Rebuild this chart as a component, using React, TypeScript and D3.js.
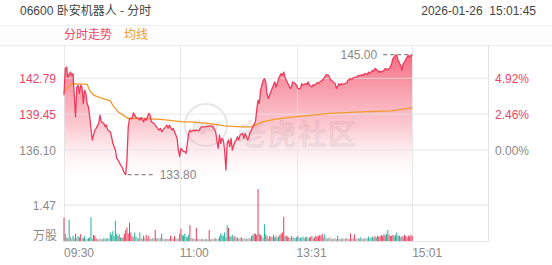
import React from "react";
import * as d3 from "d3";

const title = "06600 卧安机器人 - 分时";
const stamp = "2026-01-26  15:01:45";
const legendPrice = "分时走势";
const legendAvg = "均线";

const priceTicks = [136.1, 139.45, 142.79];
const priceTickLabels = ["136.10", "139.45", "142.79"];
const pctTickLabels = ["0.00%", "2.46%", "4.92%"];
const volTick = 1.47;
const volTickLabel = "1.47";
const volUnit = "万股";
const timeLabels = ["09:30", "11:00", "13:31", "15:01"];
const timeIdx = [0, 90, 181, 271];
const totalMinutes = 330;
const maxPrice = 145.0;
const minPrice = 133.8;

const priceMin = [0,1,2,3,5,6,7,9,10,11,12,13,14,15,16,17,18,19,20,22,23,24,25,27,28,29,31,32,33,34,36,37,38,40,41,42,44,45,46,47,48,49,50,51,53,54,56,58,59,60,62,63,64,66,67,68,70,71,72,74,75,76,77,79,80,81,82,84,85,86,88,89,90,91,93,94,95,97,98,99,101,102,103,105,106,107,110,112,115,116,118,119,120,121,122,123,124,125,126,127,128,129,130,131,133,134,135,136,137,139,140,141,143,144,145,146,147,149,150,151,152,153,154,155,156,157,158,159,160,162,163,164,165,166,167,169,170,171,172,173,175,176,177,178,180,181,182,184,185,186,188,189,190,191,193,194,195,197,198,199,201,202,203,204,206,207,208,210,211,212,214,215,216,217,219,220,221,223,224,225,227,228,229,230,232,233,234,236,237,238,240,241,242,244,245,246,247,249,250,251,253,254,255,256,258,259,260,262,263,264,265,267,268,269,270,271];
const priceVal = [141.21,143.69,143.84,142.91,143.37,143.07,143.23,139.19,141.98,142.14,141.37,142.14,141.98,140.44,141.67,141.37,140.44,140.12,139.19,137.03,137.49,137.96,138.12,138.58,139.35,138.73,138.58,138.26,138.42,137.96,137.8,137.34,136.72,136.1,135.33,135.17,134.71,134.55,134.24,133.94,133.8,135.17,138.26,139.04,139.04,139.57,139.14,139.04,138.89,139.14,138.73,139.04,138.89,139.51,139.35,138.73,138.58,138.42,138.26,137.96,138.12,137.8,137.96,138.26,138.42,138.12,138.42,137.96,138.12,137.8,137.19,136.1,135.48,136.26,135.94,135.94,135.79,137.65,137.96,137.8,137.96,137.89,137.96,137.89,138.12,138.26,138.26,138.33,138.33,138.26,137.8,137.03,136.26,137.49,136.72,137.19,137.03,136.1,134.24,136.72,137.03,136.41,137.19,136.1,136.87,137.03,137.34,137.03,137.49,137.65,137.19,137.65,137.03,137.34,137.8,137.96,138.26,138.73,139.82,140.75,140.44,141.67,142.14,142.6,142.76,142.45,141.37,140.9,141.21,141.83,142.14,142.45,141.98,142.3,142.76,143.23,143.07,143.37,142.91,142.6,142.14,141.83,141.98,142.45,142.3,142.14,141.83,141.83,142.3,142.14,142.3,142.2,142.45,142.14,141.98,142.2,142.14,142.39,142.3,142.45,142.6,142.76,142.91,143.13,143.07,142.76,142.6,142.39,142.3,141.83,142.3,142.14,142.3,142.23,142.3,142.39,142.6,142.76,142.7,142.82,142.91,142.85,143.07,143.0,143.13,143.07,143.23,143.13,143.37,143.23,143.53,143.44,143.69,143.53,143.37,143.44,143.37,143.53,143.69,143.62,143.69,143.84,144.15,144.62,144.95,144.93,144.46,143.99,143.53,144.15,144.3,144.77,144.93,144.77,144.93,145.0];

const avgMin = [0,6,18,20,23,28,36,38,42,46,50,62,75,93,99,112,125,138,146,149,154,164,175,180,206,232,255,271];
const avgVal = [141.52,142.3,142.23,141.67,141.21,140.99,140.68,140.28,139.66,139.35,139.04,139.04,138.95,138.73,138.73,138.58,138.36,138.26,138.26,138.42,138.73,138.95,139.14,139.19,139.51,139.66,139.75,140.03];

const volumes = [
0.95,0.30,0.15,0.12,0.86,0.18,0.10,0.22,0.12,0.30,
0.12,0.20,0.15,0.28,0.10,0.12,0.20,0.08,0.10,0.12,
0.15,0.97,0.10,0.25,0.22,0.10,0.08,0.06,0.10,0.08,
0.06,0.12,0.08,0.10,0.12,0.10,0.35,0.25,0.40,0.20,
0.83,0.30,0.20,0.28,0.15,0.12,0.15,0.30,0.45,0.55,
0.30,0.75,0.35,0.20,0.15,0.35,0.18,0.12,0.10,0.35,
0.12,0.10,0.22,0.12,0.25,0.10,0.22,0.10,0.08,0.12,
0.12,0.45,0.10,0.12,0.10,0.12,0.30,0.10,0.08,0.08,
0.10,0.08,0.10,0.22,0.12,0.10,0.20,0.10,0.10,0.10,
0.30,0.50,0.25,0.22,0.30,0.18,0.15,0.25,0.65,0.12,
0.10,0.10,0.08,0.54,0.10,0.08,0.06,0.08,0.10,0.06,
0.08,0.08,0.06,0.45,0.06,0.08,0.08,0.10,0.12,0.08,
0.10,0.18,0.30,0.25,0.20,0.35,0.15,0.65,0.54,0.20,
0.18,0.25,0.15,0.20,0.12,0.15,0.10,0.12,0.15,0.08,
0.10,0.12,0.08,0.10,0.12,0.10,0.20,0.25,0.30,0.30,
0.25,2.12,0.30,0.25,0.20,0.12,0.68,0.30,0.20,0.12,
0.20,0.18,0.15,0.25,0.15,0.20,0.12,0.18,0.25,0.30,
0.35,0.99,0.20,0.22,0.18,0.15,0.12,0.20,0.12,0.15,
0.12,0.15,0.20,0.12,0.15,0.12,0.18,0.10,0.15,0.18,
0.12,0.15,0.18,0.20,0.12,0.15,0.22,0.18,0.20,0.25,
0.22,0.30,0.15,0.28,0.12,0.10,0.12,0.15,0.10,0.08,
0.10,0.12,0.08,0.22,0.10,0.08,0.10,0.12,0.08,0.10,
0.12,0.10,0.08,0.30,0.10,0.12,0.27,0.08,0.10,0.12,
0.10,0.15,0.10,0.08,0.12,0.10,0.12,0.18,0.10,0.15,
0.18,0.15,0.20,0.15,0.22,0.18,0.20,0.25,0.20,0.28,
0.22,0.30,0.45,0.25,0.20,0.22,0.25,0.20,0.25,0.35,
0.20,0.22,0.15,0.20,0.18,0.25,0.20,0.15,0.22,0.18,0.25,0.20];

const volDir =
  "rtgttggtgr" + "gttrgrtggt" + "ttgrrrgggg" + "gtgtggtttt" + "ttrtttrrrr" +
  "rrrrgttggt" + "ggrgrgrggg" + "grggggtggg" + "gggrggrggg" + "trttttttrg" +
  "gggrgggggg" + "gggrgggggg" + "gtttttttrt" + "ttgrgtggrg" + "ggggggrtrr" +
  "rrtrtgttrg" + "trgrtrgtrr" + "rrtrtrgtgt" + "gtrgtgtgrt" + "gtrtgrrrrr" +
  "rrgtgggggg" + "gggtgggggg" + "gggrggrggg" + "gtgggggtgt" + "tgrttrrrrr" +
  "rttrrrrttt" + "trgrtrrrrrrr";

const RED = "#ee3b5d";
const TEAL = "#1fb59c";
const GREY = "#a6a6a6";
const ORANGE = "#f39a2b";
const GRID = "#e2e2e2";
const FONT = "'Liberation Sans', Arial, 'Noto Sans CJK SC', sans-serif";

export default function App() {
  const W = 552, H = 265;
  const left = 64, right = 488, top = 45, mainBottom = 186, volTop = 205, volBottom = 241;
  const x = d3.scaleLinear().domain([0, totalMinutes]).range([left, right]);
  const y = d3.scaleLinear().domain([priceTicks[0], priceTicks[2]]).range([150, 78.3]);
  const yv = d3.scaleLinear().domain([0, volTick]).range([volBottom, volTop]);

  const pts: [number, number][] = priceMin.map((m, i) => [m, priceVal[i]]);
  const avgPts: [number, number][] = avgMin.map((m, i) => [m, avgVal[i]]);
  const line = d3.line<[number, number]>().x(d => x(d[0])).y(d => y(d[1]));
  const area = d3.area<[number, number]>().x(d => x(d[0])).y0(mainBottom).y1(d => y(d[1]));

  const maxIdx = priceVal.indexOf(maxPrice);
  const minIdx = priceVal.indexOf(minPrice);
  const maxX = x(priceMin[priceVal.lastIndexOf(maxPrice)]);
  const minX = x(priceMin[minIdx]);
  const maxY = y(maxPrice);
  const minY = y(minPrice);
  void maxIdx;

  const colorOf = (c: string) => (c === "r" ? RED : c === "t" ? TEAL : GREY);
  const pctColor = (i: number) => (i === 0 ? "#8a8a8a" : "#e8456a");

  return (
    <svg width={W} height={H} style={{ position: "absolute", left: 0, top: 0, background: "#fff" }} fontFamily={FONT}>
      <defs>
        <linearGradient id="fillg" gradientUnits="userSpaceOnUse" x1="0" y1={maxY} x2="0" y2={mainBottom}>
          <stop offset="0" stopColor="#f4516b" stopOpacity="0.85" />
          <stop offset="0.55" stopColor="#f78a9a" stopOpacity="0.45" />
          <stop offset="1" stopColor="#ffffff" stopOpacity="0" />
        </linearGradient>
      </defs>
      <rect x={0} y={0} width={W} height={H} fill="#fff" />
      <text x={20} y={15} fontSize={12} fill="#444">{title}</text>
      <text x={536} y={15} fontSize={12} fill="#444" textAnchor="end" style={{ whiteSpace: "pre" }}>{stamp}</text>
      <rect x={0} y={25} width={W} height={20} fill="#fdfdfd" />
      <line x1={0} x2={W} y1={25.5} y2={25.5} stroke="#f0f0f0" />
      <line x1={0} x2={W} y1={45.5} y2={45.5} stroke="#ececec" />
      <text x={64} y={39} fontSize={12} fill="#ec4668">{legendPrice}</text>
      <text x={124} y={39} fontSize={12} fill={ORANGE}>{legendAvg}</text>

      {/* watermark */}
      <g opacity={0.45}>
        <circle cx={206} cy={125} r={21} fill="none" stroke="#c8c8c8" strokeWidth={2} />
        <text x={206} y={131} fontSize={14} fill="none" stroke="#c8c8c8" strokeWidth={1} textAnchor="middle" fontStyle="italic">tiger</text>
        <text x={238} y={145} fontSize={28} fill="#f2f2f2" fillOpacity={0.3} stroke="#c0c0c0" strokeWidth={1} letterSpacing={2} fontFamily="'Noto Sans CJK SC', sans-serif">老虎社区</text>
      </g>

      <path d={area(pts) || ""} fill="url(#fillg)" />

      {/* grid */}
      {priceTicks.map((p, i) => (
        <line key={"h" + i} x1={left} x2={right} y1={y(p)} y2={y(p)} stroke={GRID} strokeOpacity={0.8} />
      ))}
      <line x1={left} x2={right} y1={yv(volTick)} y2={yv(volTick)} stroke={GRID} />
      <line x1={left} x2={right} y1={volBottom + 0.5} y2={volBottom + 0.5} stroke={GRID} />
      {timeIdx.map((m, i) => (
        <line key={"v" + i} x1={Math.round(x(m)) + 0.5} x2={Math.round(x(m)) + 0.5} y1={top} y2={volBottom} stroke={GRID} strokeOpacity={0.8} />
      ))}
      <line x1={right + 0.5} x2={right + 0.5} y1={top} y2={volBottom} stroke={GRID} />

      <path d={line(avgPts) || ""} fill="none" stroke={ORANGE} strokeWidth={1.3} />
      <path d={line(pts) || ""} fill="none" stroke={RED} strokeWidth={1.3} strokeLinejoin="round" />

      {/* max / min markers */}
      <line x1={maxX - 29} x2={maxX} y1={maxY} y2={maxY} stroke="#888" strokeWidth={1.2} strokeDasharray="4,3" />
      <text x={maxX - 35} y={maxY + 4} fontSize={12} fill="#888" textAnchor="end">{maxPrice.toFixed(2)}</text>
      <line x1={minX + 2} x2={minX + 27} y1={minY} y2={minY} stroke="#888" strokeWidth={1.2} strokeDasharray="4,3" />
      <text x={minX + 34} y={minY + 4} fontSize={12} fill="#888">{minPrice.toFixed(2)}</text>

      {/* volume bars */}
      {volumes.map((v, i) => (
        <rect key={"b" + i} x={x(i) - 0.5} y={yv(v)} width={1} height={volBottom - yv(v)} fill={colorOf(volDir[i])} />
      ))}

      {/* axis labels */}
      {priceTicks.map((p, i) => (
        <text key={"pl" + i} x={56} y={y(p) + 4.5} fontSize={12} fill={pctColor(i)} textAnchor="end">{priceTickLabels[i]}</text>
      ))}
      {priceTicks.map((p, i) => (
        <text key={"pr" + i} x={495} y={y(p) + 4.5} fontSize={12} fill={pctColor(i)}>{pctTickLabels[i]}</text>
      ))}
      <text x={56} y={yv(volTick) + 4.5} fontSize={12} fill="#8a8a8a" textAnchor="end">{volTickLabel}</text>
      <text x={57} y={240} fontSize={12} fill="#8a8a8a" textAnchor="end">{volUnit}</text>
      {timeIdx.map((m, i) => (
        <text key={"t" + i} x={x(m)} y={257} fontSize={12} fill="#8a8a8a">{timeLabels[i]}</text>
      ))}
    </svg>
  );
}
